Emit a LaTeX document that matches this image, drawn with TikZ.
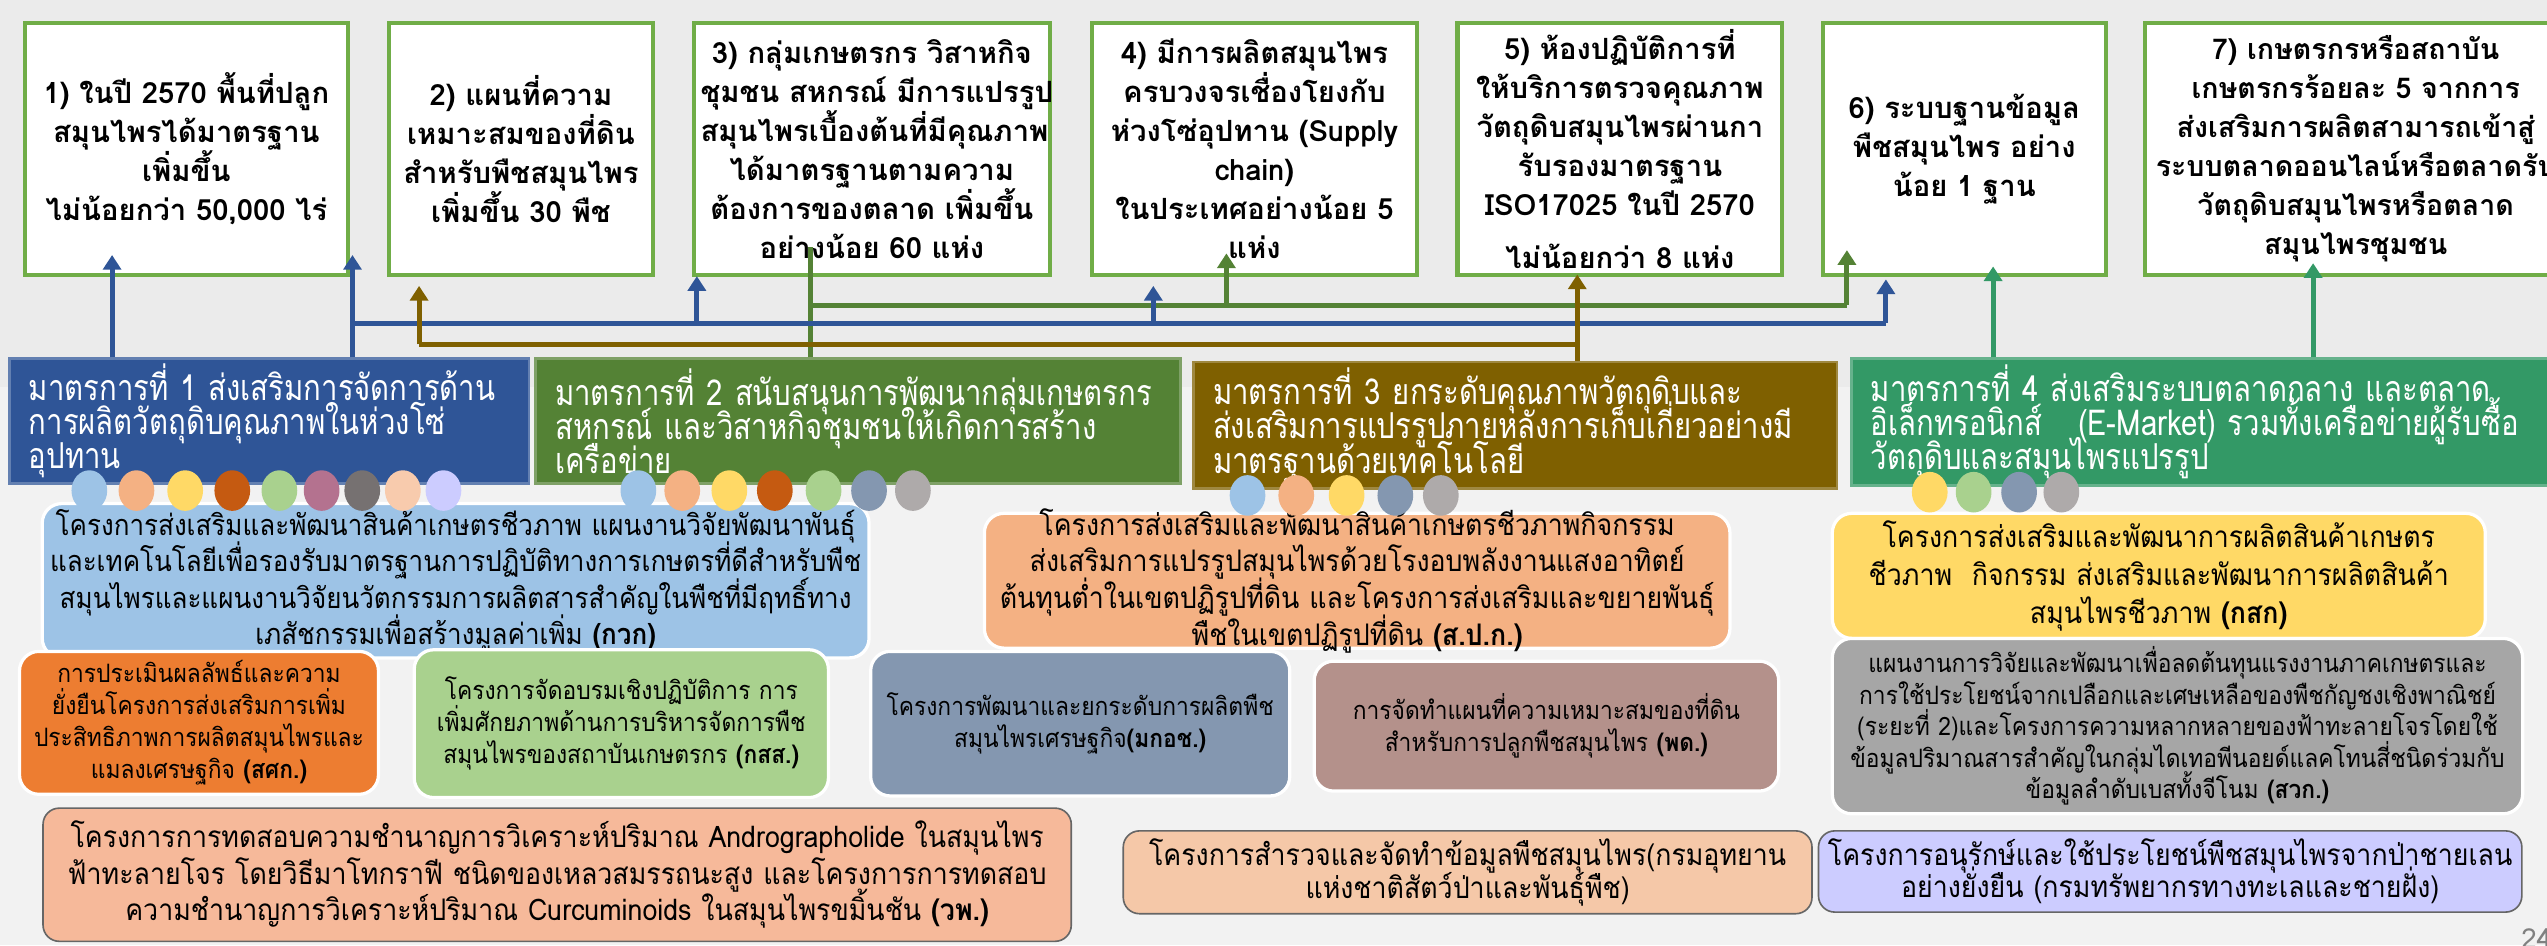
\documentclass[tikz,border=0pt]{standalone}
\usepackage{fontspec}
\setmainfont{Loma}[Script=Thai]
\newfontfamily\thainarrow{Loma}[Script=Thai,FakeStretch=0.9]
\newfontfamily\thaitall{Loma}[Script=Thai,FakeStretch=0.82]
\usepackage{xcolor}
\usepackage{tikz}
\usetikzlibrary{arrows.meta,positioning}
\lineskiplimit=-100pt
\newcommand\tightlines{\lineskiplimit=-100pt\lineskip=0pt}

\definecolor{bgtop}{HTML}{EBEBEB}
\definecolor{bgbot}{HTML}{F2F2F2}
\definecolor{goalgreen}{HTML}{70AD47}
\definecolor{mblue}{HTML}{2F5597}
\definecolor{mgreen}{HTML}{548235}
\definecolor{molive}{HTML}{7F6000}
\definecolor{mteal}{HTML}{339966}
\definecolor{cBlue}{HTML}{9DC3E6}
\definecolor{cSalmon}{HTML}{F4B183}
\definecolor{cYellow}{HTML}{FFD966}
\definecolor{cRust}{HTML}{C55A11}
\definecolor{cLGreen}{HTML}{A9D18E}
\definecolor{cMauve}{HTML}{B4728F}
\definecolor{cDGray}{HTML}{767171}
\definecolor{cPeach}{HTML}{F8CBAD}
\definecolor{cLav}{HTML}{CCCCFF}
\definecolor{cSlate}{HTML}{8497B0}
\definecolor{cGray}{HTML}{AEAAAA}
\definecolor{pOrange}{HTML}{ED7D31}
\definecolor{pRose}{HTML}{B4918B}
\definecolor{pGray}{HTML}{A6A6A6}
\definecolor{pCoral}{HTML}{F6B99A}
\definecolor{pSand}{HTML}{F5C8A8}

\begin{document}
\begin{tikzpicture}[x=1pt,y=-1pt,
    goal/.style={draw=goalgreen, line width=2.5pt, fill=white, anchor=north west, minimum height=155pt, inner xsep=4pt, inner ysep=-6pt, align=center, text width=#1, font=\bfseries\fontsize{18}{24}\selectfont\tightlines},
    measure/.style={fill=#1, draw=#1!75!white, line width=1.5pt, anchor=north west, inner xsep=12pt, inner ysep=-6pt, align=left, text=white, font=\thaitall\fontsize{22}{21}\selectfont\tightlines},
    proj/.style={fill=#1, draw=white, line width=2pt, rounded corners=12pt, anchor=north west, inner xsep=4pt, inner ysep=-6pt, align=center},
    edged/.style={fill=#1, draw=gray!80!black, line width=1pt, rounded corners=10pt, anchor=north west, inner xsep=4pt, inner ysep=-6pt, align=center},
    big/.style={font=\thainarrow\fontsize{18.3}{22.5}\selectfont\tightlines},
    small/.style={font=\thainarrow\fontsize{15.6}{19.8}\selectfont\tightlines},
    link/.style={line width=3pt, draw=#1},
    arr/.style={line width=3pt, draw=#1, -{Triangle[width=11pt,length=9pt]}},
]

\useasboundingbox (0,0) rectangle (1568,582);
\fill[bgbot] (0,0) rectangle (1568,582);
\fill[bgtop] (0,0) rectangle (1568,238);

\node[goal=191pt] (g1) at (14,13) {1)~ในปี~2570~พื้นที่ปลูก\\สมุนไพรได้มาตรฐาน\\เพิ่มขึ้น\\ไม่น้อยกว่า~50,000~ไร่};
\node[goal=155pt] (g2) at (238,13) {2)~แผนที่ความ\\เหมาะสมของที่ดิน\\สำหรับพืชสมุนไพร\\เพิ่มขึ้น~30~พืช};
\node[goal=211pt] (g3) at (426,13) {3)~กลุ่มเกษตรกร~วิสาหกิจ\\ชุมชน~สหกรณ์~มีการแปรรูป\\สมุนไพรเบื้องต้นที่มีคุณภาพ\\ได้มาตรฐานตามความ\\ต้องการของตลาด~เพิ่มขึ้น\\อย่างน้อย~60~แห่ง};
\node[goal=192pt] (g4) at (671,13) {4)~มีการผลิตสมุนไพร\\ครบวงจรเชื่องโยงกับ\\ห่วงโซ่อุปทาน~(Supply\\chain)\\ในประเทศอย่างน้อย~5\\แห่ง};
\node[goal=192pt] (g5) at (896,13) {5)~ห้องปฏิบัติการที่\\ให้บริการตรวจคุณภาพ\\วัตถุดิบสมุนไพรผ่านกา\\รับรองมาตรฐาน\\ISO17025~ในปี~2570\\[8.5pt]ไม่น้อยกว่า~8~แห่ง};
\node[goal=166pt] (g6) at (1121,13) {6)~ระบบฐานข้อมูล\\พืชสมุนไพร~อย่าง\\น้อย~1~ฐาน};
\node[goal=252pt, font=\bfseries\fontsize{17.6}{24}\selectfont\tightlines] (g7) at (1319,13) {7)~เกษตรกรหรือสถาบัน\\เกษตรกรร้อยละ~5~จากการ\\ส่งเสริมการผลิตสามารถเข้าสู่\\ระบบตลาดออนไลน์หรือตลาดรับ\\วัตถุดิบสมุนไพรหรือตลาด\\สมุนไพรชุมชน};

\node[measure=mblue, text width=296pt, minimum height=77pt] (m1) at (5,220) {มาตรการที่~1~ส่งเสริมการจัดการด้าน\\การผลิตวัตถุดิบคุณภาพในห่วงโซ่\\อุปทาน};
\node[measure=mgreen, text width=373pt, minimum height=77pt] (m2) at (329,220) {มาตรการที่~2~สนับสนุนการพัฒนากลุ่มเกษตรกร\\สหกรณ์~และวิสาหกิจชุมชนให้เกิดการสร้าง\\เครือข่าย};
\node[measure=molive, text width=372pt, minimum height=78pt] (m3) at (734,222) {มาตรการที่~3~ยกระดับคุณภาพวัตถุดิบและ\\ส่งเสริมการแปรรูปภายหลังการเก็บเกี่ยวอย่างมี\\มาตรฐานด้วยเทคโนโลยี};
\node[measure=mteal, text width=417pt, minimum height=78pt] (m4) at (1139,220) {มาตรการที่~4~ส่งเสริมระบบตลาดกลาง~และตลาด\\อิเล็กทรอนิกส์~~~(E-Market)~รวมทั้งเครือข่ายผู้รับซื้อ\\วัตถุดิบและสมุนไพรแปรรูป};

\coordinate (tB1) at (69,157);
\coordinate (tB2) at (217,157);
\coordinate (tB3) at (429,170);
\coordinate (tB4) at (710,176);
\coordinate (tB6) at (1161,172);
\coordinate (bh) at (0,199);
\coordinate (tG3) at (499,152);
\coordinate (tG4) at (755,156);
\coordinate (tG6) at (1137,154);
\coordinate (gh) at (0,188);
\coordinate (tO2) at (258,176);
\coordinate (tO5) at (971,169);
\coordinate (oh) at (0,212);
\coordinate (tT6) at (1227,164);
\coordinate (tT7) at (1424,162);

\draw[link=mgreen] (tG3 |- m2.north) -- (tG3);
\draw[link=mgreen] (tG3 |- gh) -- (tG6 |- gh);
\draw[arr=mgreen] (tG4 |- gh) -- (tG4);
\draw[arr=mgreen] (tG6 |- gh) -- (tG6);
\draw[arr=mblue] (tB1 |- m1.north) -- (tB1);
\draw[arr=mblue] (tB2 |- m1.north) -- (tB2);
\draw[link=mblue] (tB2 |- bh) -- (tB6 |- bh);
\draw[arr=mblue] (tB3 |- bh) -- (tB3);
\draw[arr=mblue] (tB4 |- bh) -- (tB4);
\draw[arr=mblue] (tB6 |- bh) -- (tB6);
\draw[arr=molive] (tO5 |- m3.north) -- (tO5);
\draw[link=molive] (tO5 |- oh) -- (tO2 |- oh);
\draw[arr=molive] (tO2 |- oh) -- (tO2);
\draw[arr=mteal] (tT6 |- m4.north) -- (tT6);
\draw[arr=mteal] (tT7 |- m4.north) -- (tT7);

\node[proj=cBlue, big, font=\thainarrow\fontsize{17.8}{22.3}\selectfont\tightlines, text width=501pt, minimum height=95pt] (p1) at (25,309) {โครงการส่งเสริมและพัฒนาสินค้าเกษตรชีวภาพ~แผนงานวิจัยพัฒนาพันธุ์\\และเทคโนโลยีเพื่อรองรับมาตรฐานการปฏิบัติทางการเกษตรที่ดีสำหรับพืช\\สมุนไพรและแผนงานวิจัยนวัตกรรมการผลิตสารสำคัญในพืชที่มีฤทธิ์ทาง\\เภสัชกรรมเพื่อสร้างมูลค่าเพิ่ม~\textbf{(กวก)}};
\node[proj=cSalmon, big, text width=451pt, minimum height=83pt] (p4) at (605,315) {โครงการส่งเสริมและพัฒนาสินค้าเกษตรชีวภาพกิจกรรม\\ส่งเสริมการแปรรูปสมุนไพรด้วยโรงอบพลังงานแสงอาทิตย์\\ต้นทุนต่ำในเขตปฏิรูปที่ดิน~และโครงการส่งเสริมและขยายพันธุ์\\พืชในเขตปฏิรูปที่ดิน~\textbf{(ส.ป.ก.)}};
\node[proj=cYellow, big, font=\thainarrow\fontsize{18.3}{23.5}\selectfont\tightlines, text width=394pt, minimum height=77pt] (p7) at (1127,315) {โครงการส่งเสริมและพัฒนาการผลิตสินค้าเกษตร\\ชีวภาพ~~กิจกรรม~ส่งเสริมและพัฒนาการผลิตสินค้า\\สมุนไพรชีวภาพ~\textbf{(กสก)}};
\node[proj=pOrange, small, text width=213pt, minimum height=88pt] (p2) at (11,400) {การประเมินผลลัพธ์และความ\\ยั่งยืนโครงการส่งเสริมการเพิ่ม\\ประสิทธิภาพการผลิตสมุนไพรและ\\แมลงเศรษฐกิจ~\textbf{(สศก.)}};
\node[proj=cLGreen, small, text width=247pt, minimum height=91pt] (p3) at (254,399) {โครงการจัดอบรมเชิงปฏิบัติการ~การ\\เพิ่มศักยภาพด้านการบริหารจัดการพืช\\สมุนไพรของสถาบันเกษตรกร~\textbf{(กสส.)}};
\node[proj=cSlate, small, text width=250pt, minimum height=89pt] (p5) at (535,400) {โครงการพัฒนาและยกระดับการผลิตพืช\\สมุนไพรเศรษฐกิจ\textbf{(มกอช.)}};
\node[proj=pRose, small, text width=278pt, minimum height=80pt] (p6) at (808,406) {การจัดทำแผนที่ความเหมาะสมของที่ดิน\\สำหรับการปลูกพืชสมุนไพร~\textbf{(พด.)}};
\node[proj=pGray, small, font=\thainarrow\fontsize{15.6}{19.4}\selectfont\tightlines, text width=417pt, minimum height=108pt] (p8) at (1127,392) {แผนงานการวิจัยและพัฒนาเพื่อลดต้นทุนแรงงานภาคเกษตรและ\\การใช้ประโยชน์จากเปลือกและเศษเหลือของพืชกัญชงเชิงพาณิชย์\\(ระยะที่~2)และโครงการความหลากหลายของฟ้าทะลายโจรโดยใช้\\ข้อมูลปริมาณสารสำคัญในกลุ่มไดเทอพีนอยด์แลคโทนสี่ชนิดร่วมกับ\\ข้อมูลลำดับเบสทั้งจีโนม~\textbf{(สวก.)}};
\node[edged=pCoral, big, text width=625pt, minimum height=82pt] (p9) at (26,497) {โครงการการทดสอบความชำนาญการวิเคราะห์ปริมาณ~Andrographolide~ในสมุนไพร\\ฟ้าทะลายโจร~โดยวิธีมาโทกราฟี~ชนิดของเหลวสมรรถนะสูง~และโครงการการทดสอบ\\ความชำนาญการวิเคราะห์ปริมาณ~Curcuminoids~ในสมุนไพรขมิ้นชัน~\textbf{(วพ.)}};
\node[edged=pSand, big, font=\thainarrow\fontsize{18.3}{20}\selectfont\tightlines, text width=416pt, minimum height=51pt] (p10) at (691,511) {โครงการสำรวจและจัดทำข้อมูลพืชสมุนไพร(กรมอุทยาน\\แห่งชาติสัตว์ป่าและพันธุ์พืช)};
\node[edged=cLav, big, font=\thainarrow\fontsize{18.3}{20}\selectfont\tightlines, text width=425pt, minimum height=50pt] (p11) at (1119,511) {โครงการอนุรักษ์และใช้ประโยชน์พืชสมุนไพรจากป่าชายเลน\\อย่างยั่งยืน~(กรมทรัพยากรทางทะเลและชายฝั่ง)};

\foreach \cx/\cc in {55/cBlue,84/cSalmon,114/cYellow,143/cRust,172/cLGreen,198/cMauve,223/cDGray,248/cPeach,273/cLav}
  \fill[\cc] (\cx,302) ellipse [x radius=11pt, y radius=12.5pt];
\foreach \cx/\cc in {393/cBlue,420/cSalmon,449/cYellow,477/cRust,507/cLGreen,535/cSlate,562/cGray}
  \fill[\cc] (\cx,302) ellipse [x radius=11pt, y radius=12.5pt];
\foreach \cx/\cc in {768/cBlue,798/cSalmon,829/cYellow,859/cSlate,887/cGray}
  \fill[\cc] (\cx,305) ellipse [x radius=11pt, y radius=12.5pt];
\foreach \cx/\cc in {1188/cYellow,1215/cLGreen,1243/cSlate,1269/cGray}
  \fill[\cc] (\cx,303) ellipse [x radius=11pt, y radius=12.5pt];

\node[text=gray, font=\fontsize{17}{17}\selectfont, anchor=west, inner sep=0pt] (pg) at (1552,578) {24};

\end{tikzpicture}
\end{document}
